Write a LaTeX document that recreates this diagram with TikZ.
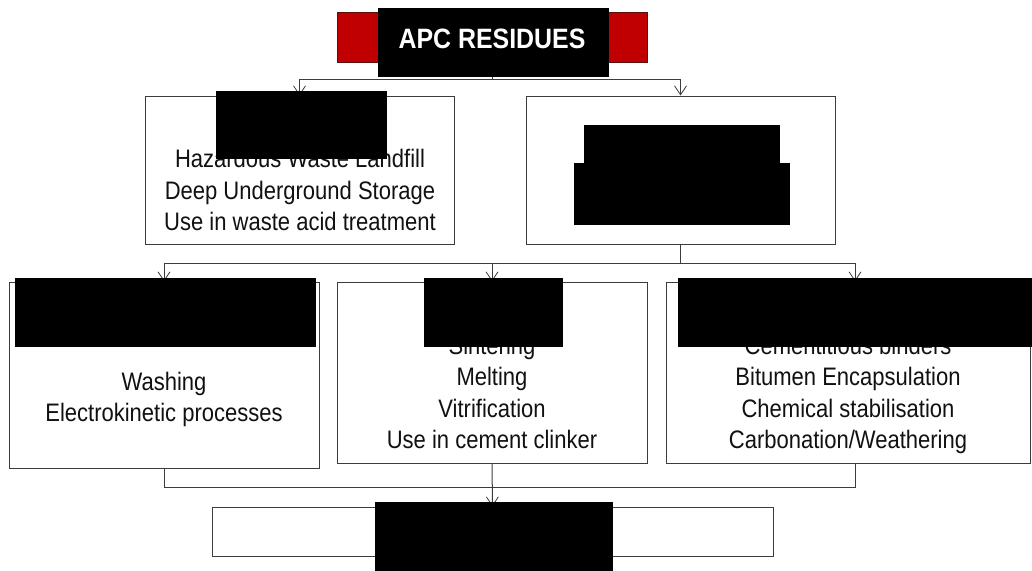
\documentclass[tikz,border=0pt]{standalone}
\usepackage{fontspec}
\setmainfont{Liberation Sans}
\newfontfamily\bodyfont[FakeStretch=0.87]{Liberation Sans}
\newfontfamily\headfont[FakeStretch=0.89]{Liberation Sans}
\usetikzlibrary{arrows.meta}
\definecolor{redbox}{HTML}{C00000}
\definecolor{rededge}{HTML}{5A1010}
\definecolor{edge}{HTML}{3C3C3C}
\definecolor{ink}{HTML}{111111}
\begin{document}
\begin{tikzpicture}[x=1pt,y=-1pt,
  box/.style={draw=edge,line width=1pt,fill=white,inner sep=0pt},
  redb/.style={draw=rededge,line width=1pt,fill=redbox,inner sep=0pt},
  blk/.style={fill=black,draw=none,inner sep=0pt},
  txt/.style={font=\bodyfont\fontsize{25.3}{30}\selectfont,text=ink,anchor=base,inner sep=0pt},
  line/.style={draw=edge,line width=1pt},
  conn/.style={line,-{Straight Barb[length=9pt,width=12pt,line width=0.8pt]}}]
\useasboundingbox (0,0) rectangle (1032,570);

% boxes
\node[redb,minimum width=310pt,minimum height=50pt] (apc) at (492,37) {};
\node[box,minimum width=309pt,minimum height=148pt] (tl) at (299.5,170) {};
\node[box,minimum width=309pt,minimum height=148pt] (tr) at (680.5,170) {};
\node[box,minimum width=310pt,minimum height=186pt] (ll) at (164,375) {};
\node[box,minimum width=310pt,minimum height=181pt] (mid) at (492,372.5) {};
\node[box,minimum width=364pt,minimum height=181pt] (rt) at (848,372.5) {};
\node[box,minimum width=561pt,minimum height=49pt] (bot) at (492.5,531.5) {};

% texts
\node[txt] (tl1) at (300,167.5) {Hazardous Waste Landfill};
\node[txt] (tl2) at (300,199) {Deep Underground Storage};
\node[txt] (tl3) at (300,230.5) {Use in waste acid treatment};
\node[txt] (ll1) at (164,390) {Washing};
\node[txt] (ll2) at (164,421) {Electrokinetic processes};
\node[txt] (m1) at (492,354) {Sintering};
\node[txt] (m2) at (492,385.5) {Melting};
\node[txt] (m3) at (492,417) {Vitrification};
\node[txt] (m4) at (492,448.5) {Use in cement clinker};
\node[txt] (r1) at (848,354) {Cementitious binders};
\node[txt] (r2) at (848,385.5) {Bitumen Encapsulation};
\node[txt] (r3) at (848,417) {Chemical stabilisation};
\node[txt] (r4) at (848,448.5) {Carbonation/Weathering};

% connectors
\coordinate (b1) at (492,79);
\draw[conn] (apc.south) -- (b1) -| (tl.north);
\draw[conn] (b1) -| (tr.north);
\coordinate (b2) at (680.5,263);
\coordinate (rc) at (855,263);
\draw[line] (tr.south) -- (b2);
\draw[conn] (b2) -| (ll.north);
\draw[conn] (b2) -| (mid.north);
\draw[conn] (b2) -- (rc) -- (rc |- rt.north);
\coordinate (b3) at (492,487);
\draw[line] (ll.south) |- (b3);
\draw[line] (rc |- rt.south) |- (b3);
\draw[conn] (mid.south) -- (bot.north);

% black overlays
\node[blk,minimum width=231pt,minimum height=69pt] (tb) at (493.5,42.5) {};
\node[font=\headfont\bfseries\fontsize{28}{32}\selectfont,text=white,anchor=base,inner sep=0pt] (title) at (492,48) {APC RESIDUES};
\node[blk,minimum width=171pt,minimum height=68pt] (tlb) at (301.5,125) {};
\node[blk,minimum width=196pt,minimum height=38pt] (trb1) at (682,144) {};
\node[blk,minimum width=216pt,minimum height=62pt] (trb2) at (682,194) {};
\node[blk,minimum width=301pt,minimum height=69pt] (llb) at (165.5,312.5) {};
\node[blk,minimum width=139pt,minimum height=69pt] (midb) at (493.5,312.5) {};
\node[blk,minimum width=362pt,minimum height=69pt] (rtb) at (859,312.5) {};
\node[blk,minimum width=238pt,minimum height=73pt] (botb) at (494,538.5) {};
\end{tikzpicture}
\end{document}
